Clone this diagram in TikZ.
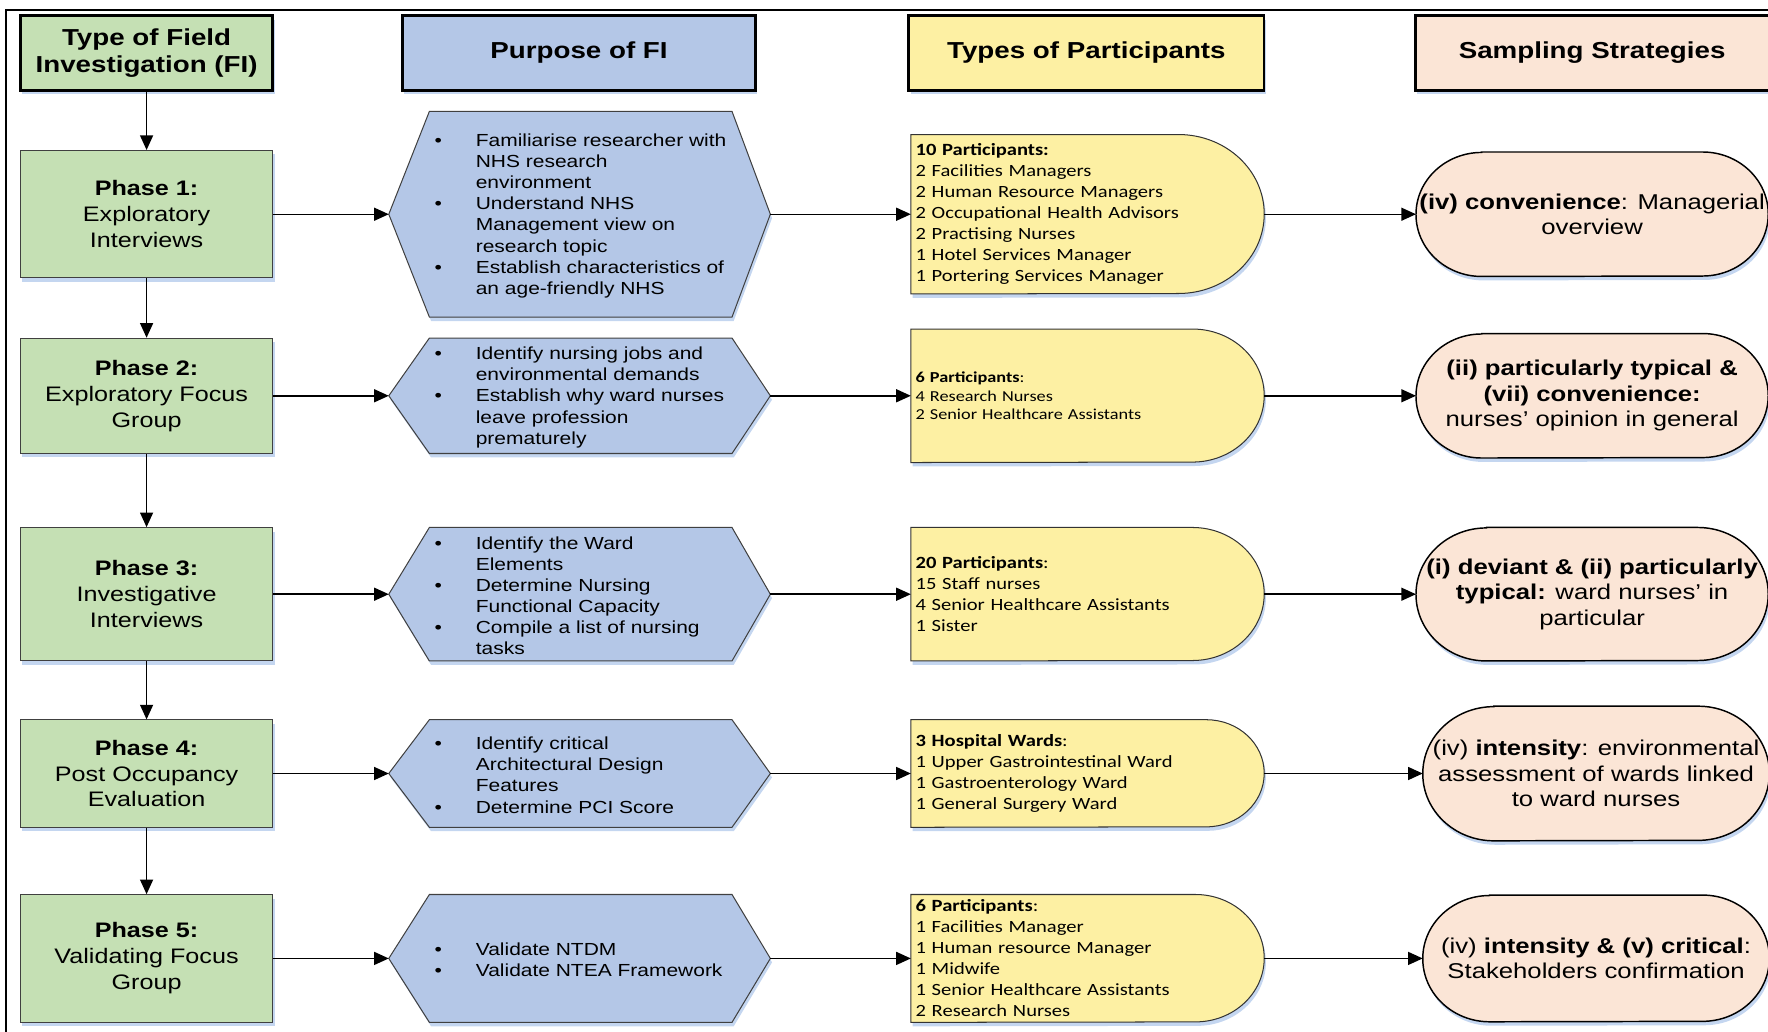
\documentclass[tikz,border=0pt]{standalone}
\usepackage{fontspec}
\setmainfont{Liberation Sans}[FakeStretch=1.2]
\newfontfamily\calib{Carlito}[FakeStretch=1.2]
\usetikzlibrary{arrows.meta,shadows,backgrounds,calc}

\definecolor{phasegreen}{RGB}{197,224,180}
\definecolor{purposeblue}{RGB}{180,199,231}
\definecolor{partyellow}{RGB}{253,240,163}
\definecolor{samplepeach}{RGB}{251,229,214}
\definecolor{shadeblue}{RGB}{196,214,240}

% bullet and hanging indent for the purpose lists
\newcommand\hitem{\makebox[36.5pt][l]{\textbullet}}
\newcommand\hgap{\makebox[36.5pt]{}}

% outlines drawn around empty named nodes
\newcommand\drawhexagon[1]{%
  \path[hexline] (#1.west) -- ([xshift=36pt]#1.north west) -- ([xshift=-34pt]#1.north east)
    -- (#1.east) -- ([xshift=-34pt]#1.south east) -- ([xshift=36pt]#1.south west) -- cycle;}
\newcommand\drawdelayshape[2]{%
  \path[partline] (#1.north west) -- ([xshift=-1.08*#2]#1.north east)
    arc[start angle=90,end angle=-90,x radius=1.08*#2,y radius=#2] -- (#1.south west) -- cycle;}
\newcommand\drawstadium[2]{%
  \path[sampleline] ([xshift=1.06*#2]#1.north west) -- ([xshift=-1.06*#2]#1.north east)
    arc[start angle=90,end angle=-90,x radius=1.06*#2,y radius=#2]
    -- ([xshift=1.06*#2]#1.south west)
    arc[start angle=270,end angle=90,x radius=1.06*#2,y radius=#2] -- cycle;}

\tikzset{
  every node/.style={inner sep=0pt},
  softshadow/.style={drop shadow={shadow xshift=1.5pt,shadow yshift=-3.5pt,fill=shadeblue,opacity=1}},
  headbox/.style={draw=black, line width=2.5pt, minimum height=66pt,
    font=\fontsize{20.5}{24}\selectfont\bfseries, align=center, softshadow},
  phasebox/.style={draw=black!75, line width=0.9pt, fill=phasegreen, minimum width=224pt,
    font=\fontsize{18.6}{23}\selectfont, align=center, softshadow},
  hexbox/.style={minimum width=338pt},
  hexline/.style={draw=black!75, line width=0.9pt, fill=purposeblue, softshadow},
  hextext/.style={anchor=west, align=left, font=\fontsize{15.5}{18.7}\selectfont},
  partbox/.style={text width=305pt, inner xsep=4pt, align=left,
    font=\calib\fontsize{15.2}{18.65}\selectfont},
  partline/.style={draw=black!80, line width=0.9pt, fill=partyellow, softshadow},
  samplebox/.style={align=center, font=\fontsize{19}{22.5}\selectfont},
  sampleline/.style={draw=black, line width=1.3pt, fill=samplepeach, softshadow},
  flow/.style={line width=1.3pt, -{Triangle[length=13pt,width=11.5pt]}},
}

\begin{document}
\begin{tikzpicture}[x=1pt,y=1pt]
\useasboundingbox (0,0) rectangle (1568,-915);

% outer frame
\draw[line width=1.8pt] (1580,-9) -- (5,-9) -- (5,-925);

% column headers
\node[headbox, fill=phasegreen, minimum width=224pt] (h1) at (130,-47) {Type of Field\\Investigation (FI)};
\node[headbox, fill=purposeblue, minimum width=313pt] (h2) at (513.5,-47) {Purpose of FI};
\node[headbox, fill=partyellow, minimum width=315pt] (h3) at (963.5,-47) {Types of Participants};
\node[headbox, fill=samplepeach, minimum width=314pt] (h4) at (1412,-47) {Sampling Strategies};

% phases
\node[phasebox, minimum height=113pt] (p1) at (130,-190) {\textbf{Phase 1:}\\Exploratory\\Interviews};
\node[phasebox, minimum height=102pt] (p2) at (130,-351) {\textbf{Phase 2:}\\Exploratory Focus\\Group};
\node[phasebox, minimum height=118pt] (p3) at (130,-527) {\textbf{Phase 3:}\\Investigative\\Interviews};
\node[phasebox, minimum height=95pt]  (p4) at (130,-686) {\textbf{Phase 4:}\\Post Occupancy\\Evaluation};
\node[phasebox, minimum height=113pt] (p5) at (130,-850) {\textbf{Phase 5:}\\Validating Focus\\Group};

% purposes
\node[hexbox, minimum height=182pt] (x1) at (514,-190) {};
\node[hextext] (x1t) at ([xshift=40.5pt,yshift=-1.5pt]x1.west) {%
  \hitem Familiarise researcher with\\ \hgap NHS research\\ \hgap environment\\
  \hitem Understand NHS\\ \hgap Management view on\\ \hgap research topic\\
  \hitem Establish characteristics of\\ \hgap an age-friendly NHS};
\node[hexbox, minimum height=102pt] (x2) at (514,-351) {};
\node[hextext] (x2t) at ([xshift=40.5pt,yshift=-1.5pt]x2.west) {%
  \hitem Identify nursing jobs and\\ \hgap environmental demands\\
  \hitem Establish why ward nurses\\ \hgap leave profession\\ \hgap prematurely};
\node[hexbox, minimum height=118pt] (x3) at (514,-527) {};
\node[hextext] (x3t) at ([xshift=40.5pt,yshift=-1.5pt]x3.west) {%
  \hitem Identify the Ward\\ \hgap Elements\\
  \hitem Determine Nursing\\ \hgap Functional Capacity\\
  \hitem Compile a list of nursing\\ \hgap tasks};
\node[hexbox, minimum height=95pt] (x4) at (514,-686) {};
\node[hextext] (x4t) at ([xshift=40.5pt,yshift=-1.5pt]x4.west) {%
  \hitem Identify critical\\ \hgap Architectural Design\\ \hgap Features\\
  \hitem Determine PCI Score};
\node[hexbox, minimum height=113pt] (x5) at (514,-850) {};
\node[hextext] (x5t) at ([xshift=40.5pt,yshift=-1.5pt]x5.west) {%
  \hitem Validate NTDM\\ \hitem Validate NTEA Framework};

% participants
\node[partbox, minimum height=141pt] (y1) at (964.5,-190) {\textbf{10 Participants:}\\2 Facilities Managers\\2 Human Resource Managers\\2 Occupational Health Advisors\\2 Practising Nurses\\1 Hotel Services Manager\\1 Portering Services Manager};
\node[partbox, minimum height=118pt, font=\calib\fontsize{13.5}{16.5}\selectfont] (y2) at (964.5,-351) {\textbf{6 Participants}:\\4 Research Nurses\\2 Senior Healthcare Assistants};
\node[partbox, minimum height=118pt] (y3) at (964.5,-527) {\textbf{20 Participants}:\\15 Staff nurses\\4 Senior Healthcare Assistants\\1 Sister};
\node[partbox, minimum height=95pt] (y4) at (964.5,-686) {\textbf{3 Hospital Wards}:\\1 Upper Gastrointestinal Ward\\1 Gastroenterology Ward\\1 General Surgery Ward};
\node[partbox, minimum height=113pt] (y5) at (964.5,-850) {\textbf{6 Participants}:\\1 Facilities Manager\\1 Human resource Manager\\1 Midwife\\1 Senior Healthcare Assistants\\2 Research Nurses};

% sampling strategies
\node[samplebox, minimum width=312pt, minimum height=110pt] (s1) at (1412,-190) {\textbf{(iv) convenience}: Managerial\\overview};
\node[samplebox, minimum width=312pt, minimum height=110pt] (s2) at (1412,-351) {\textbf{(ii) particularly typical \&}\\\textbf{(vii) convenience:}\\nurses’ opinion in general};
\node[samplebox, minimum width=312pt, minimum height=118pt] (s3) at (1412,-527) {\textbf{(i) deviant \& (ii) particularly}\\\textbf{typical:} ward nurses’ in\\particular};
\node[samplebox, minimum width=307pt, minimum height=119pt] (s4) at (1415.5,-686) {(iv) \textbf{intensity}: environmental\\assessment of wards linked\\to ward nurses};
\node[samplebox, minimum width=307pt, minimum height=112pt] (s5) at (1415.5,-850) {(iv) \textbf{intensity \& (v) critical}:\\Stakeholders confirmation};

% shape outlines behind the texts
\begin{scope}[on background layer]
  \foreach \n in {x1,x2,x3,x4,x5} {\drawhexagon{\n}}
  \drawdelayshape{y1}{70.5}
  \drawdelayshape{y2}{59}
  \drawdelayshape{y3}{59}
  \drawdelayshape{y4}{47.5}
  \drawdelayshape{y5}{56.5}
  \drawstadium{s1}{55}
  \drawstadium{s2}{55}
  \drawstadium{s3}{59}
  \drawstadium{s4}{59.5}
  \drawstadium{s5}{56}
\end{scope}

% connectors
\draw[flow] (h1.south) -- (p1.north);
\foreach \a/\b in {p1/p2,p2/p3,p3/p4,p4/p5} {\draw[flow] (\a.south) -- (\b.north);}
\foreach \i in {1,...,5} {
  \draw[flow] (p\i.east) -- (x\i.west);
  \draw[flow] (x\i.east) -- (y\i.west);
  \draw[flow] (y\i.east) -- (s\i.west);
}
\end{tikzpicture}
\end{document}
